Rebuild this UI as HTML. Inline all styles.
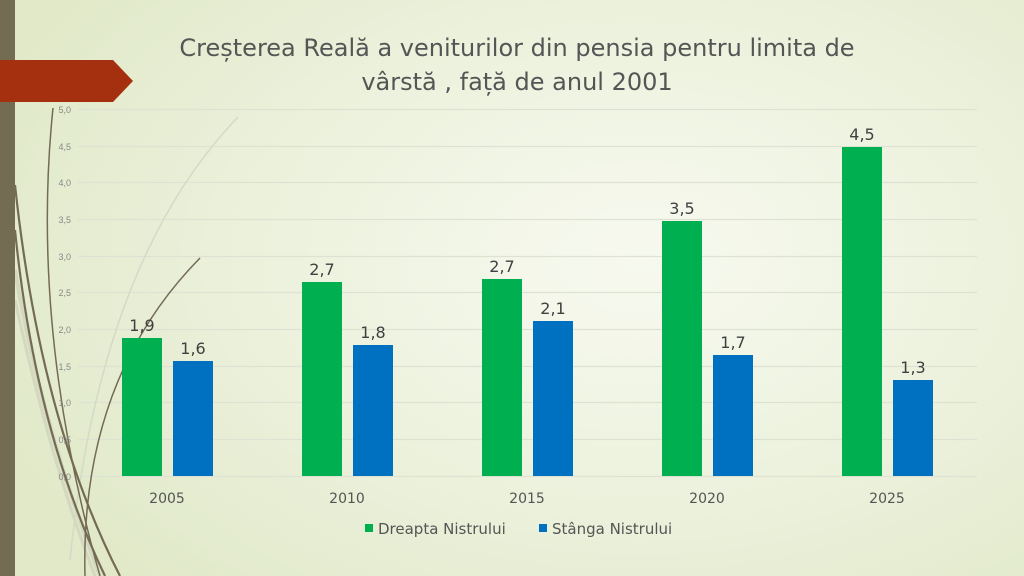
<!DOCTYPE html>
<html><head><meta charset="utf-8"><style>
html,body{margin:0;padding:0}
body{width:1024px;height:576px;overflow:hidden;position:relative;font-family:"DejaVu Sans","Liberation Sans",sans-serif;
background:radial-gradient(ellipse 700px 450px at 640px 260px,#f7f9ef 0%,#eef3e0 45%,#e1e9c9 100%);}
svg{position:absolute;left:0;top:0}
</style></head><body>
<svg width="1024" height="576" viewBox="0 0 1024 576">
<g stroke="#dde2d3" stroke-width="1.2">
<line x1="78" x2="977" y1="109.5" y2="109.5"/><line x1="78" x2="977" y1="146.5" y2="146.5"/>
<line x1="78" x2="977" y1="182.5" y2="182.5"/><line x1="78" x2="977" y1="219.5" y2="219.5"/>
<line x1="78" x2="977" y1="256.5" y2="256.5"/><line x1="78" x2="977" y1="292.5" y2="292.5"/>
<line x1="78" x2="977" y1="329.5" y2="329.5"/><line x1="78" x2="977" y1="366.5" y2="366.5"/>
<line x1="78" x2="977" y1="402.5" y2="402.5"/><line x1="78" x2="977" y1="439.5" y2="439.5"/>
<line x1="78" x2="977" y1="476.5" y2="476.5"/>
</g>
<g fill="none">
<path d="M15 270 Q40 420 100 576" stroke="#d3d8bf" stroke-width="4"/>
<path d="M15 300 Q50 460 95 576" stroke="#d3d8bf" stroke-width="3"/>
<path d="M238 117 Q100 260 70 560" stroke="#d5d9c6" stroke-width="1.5"/>
<path d="M15 185 Q40 420 120 576" stroke="#746b55" stroke-width="2.2"/>
<path d="M53 108 Q30 330 100 576" stroke="#746b55" stroke-width="1.5"/>
<path d="M200 258 Q80 380 85 576" stroke="#746b55" stroke-width="1.5"/>
<path d="M15 230 Q35 430 105 576" stroke="#746b55" stroke-width="2.2"/>
</g>
<rect x="0" y="0" width="15" height="576" fill="#736b52"/>
<polygon points="0,60 113,60 133,81 113,102 0,102" fill="#a5300f"/>
<g font-size="9" fill="#888" text-anchor="end" font-family="Liberation Sans,sans-serif">
<text x="71" y="113">5,0</text><text x="71" y="150">4,5</text><text x="71" y="186">4,0</text>
<text x="71" y="223">3,5</text><text x="71" y="260">3,0</text><text x="71" y="296">2,5</text>
<text x="71" y="333">2,0</text><text x="71" y="370">1,5</text><text x="71" y="406">1,0</text>
<text x="71" y="443">0,5</text><text x="71" y="480">0,0</text>
</g>
<g>
<rect x="122" y="338" width="40" height="138" fill="#00b050"/><rect x="173" y="361" width="40" height="115" fill="#0070c0"/>
<rect x="302" y="282" width="40" height="194" fill="#00b050"/><rect x="353" y="345" width="40" height="131" fill="#0070c0"/>
<rect x="482" y="279" width="40" height="197" fill="#00b050"/><rect x="533" y="321" width="40" height="155" fill="#0070c0"/>
<rect x="662" y="221" width="40" height="255" fill="#00b050"/><rect x="713" y="355" width="40" height="121" fill="#0070c0"/>
<rect x="842" y="147" width="40" height="329" fill="#00b050"/><rect x="893" y="380" width="40" height="96" fill="#0070c0"/>
</g>
<g font-size="16" fill="#404040" text-anchor="middle">
<text x="142" y="331">1,9</text><text x="193" y="354">1,6</text>
<text x="322" y="275">2,7</text><text x="373" y="338">1,8</text>
<text x="502" y="272">2,7</text><text x="553" y="314">2,1</text>
<text x="682" y="214">3,5</text><text x="733" y="348">1,7</text>
<text x="862" y="140">4,5</text><text x="913" y="373">1,3</text>
</g>
<g font-size="14" fill="#555" text-anchor="middle">
<text x="167" y="503">2005</text><text x="347" y="503">2010</text><text x="527" y="503">2015</text>
<text x="707" y="503">2020</text><text x="887" y="503">2025</text>
</g>
<rect x="365" y="524" width="8" height="8" fill="#00b050"/>
<text x="378" y="534" font-size="15" fill="#555">Dreapta Nistrului</text>
<rect x="539" y="524" width="8" height="8" fill="#0070c0"/>
<text x="552" y="534" font-size="15" fill="#555">Stânga Nistrului</text>
<g font-size="24" fill="#555" text-anchor="middle">
<text x="517" y="56">Creșterea Reală a veniturilor din pensia pentru limita de</text>
<text x="517" y="90">vârstă , față de anul 2001</text>
</g>
</svg>
</body></html>
